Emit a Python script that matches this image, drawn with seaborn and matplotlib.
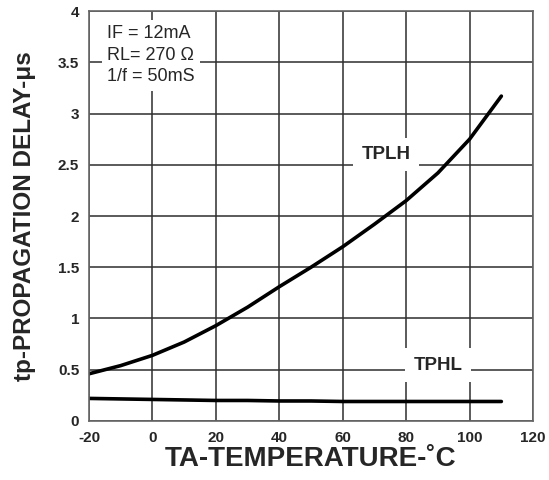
import pandas as pd
import seaborn as sns
import matplotlib.pyplot as plt

# values
temps = [-20, -10, 0, 10, 20, 30, 40, 50, 60, 70, 80, 90, 100, 110]
tplh = [0.46, 0.54, 0.64, 0.77, 0.93, 1.11, 1.31, 1.50, 1.70, 1.92, 2.15, 2.42, 2.75, 3.17]
tphl = [0.22, 0.215, 0.21, 0.205, 0.20, 0.20, 0.195, 0.195, 0.19, 0.19, 0.19, 0.19, 0.19, 0.19]

x_ticks = [-20, 0, 20, 40, 60, 80, 100, 120]
y_ticks = [0, 0.5, 1, 1.5, 2, 2.5, 3, 3.5, 4]
y_tick_labels = ['0', '0.5', '1', '1.5', '2', '2.5', '3', '3.5', '4']

df = pd.DataFrame({'temp': temps * 2,
                   'delay': tplh + tphl,
                   'curve': ['TPLH'] * len(temps) + ['TPHL'] * len(temps)})

sns.set_style('white')
plt.rcParams['font.family'] = ['Liberation Sans', 'DejaVu Sans']
plt.rcParams['axes.unicode_minus'] = False

fig = plt.figure(figsize=(5.49, 4.8), dpi=100)
ax = fig.add_axes([0.162, 0.123, 0.809, 0.854])

sns.lineplot(data=df, x='temp', y='delay', units='curve', estimator=None,
             color='black', linewidth=2.6, ax=ax, legend=False)

ax.set_xlim(-20, 120)
ax.set_ylim(0, 4)
ax.set_xticks(x_ticks)
ax.set_yticks(y_ticks)
ax.set_yticklabels(y_tick_labels)
ax.grid(True, color='#2e2e2e', linewidth=1.1)
ax.set_axisbelow(True)
for s in ax.spines.values():
    s.set_color('#666666')
    s.set_linewidth(1.2)
ax.tick_params(axis='both', direction='out', length=3, width=1, color='#444444',
               labelsize=11, pad=4)
for lab in ax.get_xticklabels() + ax.get_yticklabels():
    lab.set_fontweight('bold')
ax.set_xlabel('TA-TEMPERATURE-˚C', fontsize=20, fontweight='bold', labelpad=1)
ax.set_ylabel('tp-PROPAGATION DELAY-μs', fontsize=17.5, fontweight='bold', labelpad=16)

box = dict(facecolor='white', edgecolor='none', boxstyle='square,pad=0.45')
ax.text(-14.3, 3.86, 'IF = 12mA\nRL= 270 Ω\n1/f = 50mS', fontsize=13,
        ha='left', va='top', linespacing=1.35, zorder=3,
        bbox=dict(facecolor='white', edgecolor='none', boxstyle='square,pad=0.3'))
ax.text(73.7, 2.6, 'TPLH', fontsize=13.5, fontweight='bold', ha='center', va='center',
        zorder=3, bbox=box)
ax.text(90, 0.545, 'TPHL', fontsize=13.5, fontweight='bold', ha='center', va='center',
        zorder=3, bbox=box)

fig.savefig('out.png', dpi=100)
